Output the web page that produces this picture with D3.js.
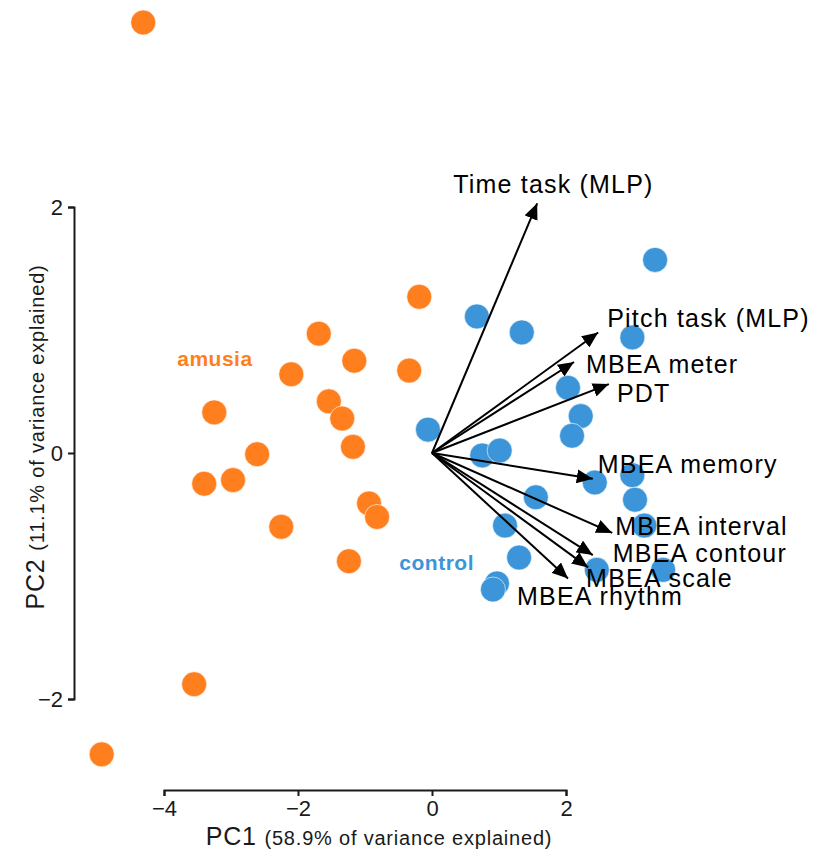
<!DOCTYPE html>
<html>
<head>
<meta charset="utf-8">
<script src="https://cdn.jsdelivr.net/npm/d3@7"></script>
<style>
  body { margin: 0; background: #fff; }
  svg { display: block; font-family: "Liberation Sans", Arial, Helvetica, sans-serif; }
</style>
</head>
<body>
<div id="chart"></div>
<script>
const width = 819;
const height = 852;

// PCA scores (PC1, PC2)
const amusiaPC1 = [-4.31, -0.19, -1.69, -1.16, -2.10, -0.34, -1.54, -1.34, -3.25, -1.18,
  -2.61, -3.40, -2.97, -0.94, -0.82, -2.25, -1.24, -3.55, -4.93];
const amusiaPC2 = [3.50, 1.27, 0.97, 0.75, 0.64, 0.67, 0.42, 0.28, 0.33, 0.05,
  -0.01, -0.25, -0.22, -0.41, -0.52, -0.60, -0.88, -1.88, -2.45];

const controlPC1 = [3.33, 0.67, 1.34, 2.99, 2.03, 2.22, 2.09, -0.06, 0.75, 1.01, 2.43,
  2.99, 3.03, 1.55, 3.17, 1.09, 1.30, 2.46, 3.45, 0.97, 0.91];
const controlPC2 = [1.57, 1.11, 0.98, 0.94, 0.53, 0.30, 0.14, 0.19, -0.02, 0.02, -0.24,
  -0.18, -0.38, -0.36, -0.59, -0.59, -0.85, -0.95, -0.95, -1.06, -1.11];

// loadings (arrow tips)
const variables = ["Time task (MLP)", "Pitch task (MLP)", "MBEA meter", "PDT", "MBEA memory",
  "MBEA interval", "MBEA contour", "MBEA scale", "MBEA rhythm"];
const loadPC1 = [1.57, 2.48, 2.12, 2.64, 2.40, 2.69, 2.40, 2.33, 2.03];
const loadPC2 = [2.03, 0.98, 0.74, 0.56, -0.21, -0.65, -0.83, -0.93, -1.02];

// label placement relative to the arrow tip, in px
const labelDx = [-84, 9, 12, 8, 5, 3, 20, -2, -51];
const labelDy = [-10, -5, 11, 18, -6, 2, 7, 20, 27];

const groups = ["amusia", "control"];
const groupColors = { amusia: "#ff7f1e", control: "#3b95d8" };
const groupLabelX = [-3.24, 0.07];
const groupLabelY = [0.71, -0.95];

const xTicks = [-4, -2, 0, 2];
const yTicks = [-2, 0, 2];

const x = d3.scaleLinear().domain([-4, 2]).range([164, 566]);
const y = d3.scaleLinear().domain([-2, 2]).range([699, 207]);

const svg = d3.select("#chart").append("svg")
  .attr("width", width)
  .attr("height", height);

svg.append("defs").append("marker")
  .attr("id", "arrow")
  .attr("viewBox", "0 0 16 14")
  .attr("refX", 16)
  .attr("refY", 7)
  .attr("markerWidth", 16)
  .attr("markerHeight", 14)
  .attr("markerUnits", "userSpaceOnUse")
  .attr("orient", "auto")
  .append("path")
  .attr("d", "M0,0L16,7L0,14Z")
  .attr("fill", "#000");

const minus = d => String(d).replace("-", "\u2212");

// axes
const xAxis = svg.append("g")
  .attr("transform", `translate(0,790)`)
  .call(d3.axisBottom(x).tickValues(xTicks).tickSize(6).tickPadding(4).tickFormat(minus));

const yAxis = svg.append("g")
  .attr("transform", `translate(74,0)`)
  .call(d3.axisLeft(y).tickValues(yTicks).tickSize(6).tickPadding(5).tickFormat(minus));

[xAxis, yAxis].forEach(g => {
  g.attr("font-size", null).attr("font-family", null);
  g.selectAll("path, line").attr("stroke", "#1a1a1a").attr("stroke-width", 2);
  g.selectAll("text").style("font-size", "22px").attr("fill", "#1a1a1a");
});

// axis titles
const xTitle = svg.append("text")
  .attr("x", 379)
  .attr("y", 845)
  .attr("text-anchor", "middle")
  .attr("fill", "#1a1a1a")
  .attr("letter-spacing", 0.8);
xTitle.append("tspan").attr("font-size", 25).text("PC1 ");
xTitle.append("tspan").attr("font-size", 20).text("(58.9% of variance explained)");

const yTitle = svg.append("text")
  .attr("transform", "translate(44,437) rotate(-90)")
  .attr("text-anchor", "middle")
  .attr("fill", "#1a1a1a")
  .attr("letter-spacing", 0.8);
yTitle.append("tspan").attr("font-size", 25).text("PC2 ");
yTitle.append("tspan").attr("font-size", 20).text("(11.1% of variance explained)");

// points
const points = [];
amusiaPC1.forEach((v, i) => points.push({ g: "amusia", pc1: v, pc2: amusiaPC2[i] }));
controlPC1.forEach((v, i) => points.push({ g: "control", pc1: v, pc2: controlPC2[i] }));

svg.append("g").selectAll("circle")
  .data(points)
  .enter().append("circle")
  .attr("cx", d => x(d.pc1))
  .attr("cy", d => y(d.pc2))
  .attr("r", 12.5)
  .attr("fill", d => groupColors[d.g])
  .attr("stroke", "#fff")
  .attr("stroke-width", 0.6);

// group labels
svg.append("g").selectAll("text")
  .data(groups)
  .enter().append("text")
  .attr("x", (d, i) => x(groupLabelX[i]))
  .attr("y", (d, i) => y(groupLabelY[i]))
  .attr("text-anchor", "middle")
  .attr("font-size", 21)
  .attr("font-weight", "bold")
  .attr("letter-spacing", 0.5)
  .attr("fill", d => groupColors[d])
  .text(d => d);

// loading arrows
const loadings = variables.map((v, i) => ({ name: v, pc1: loadPC1[i], pc2: loadPC2[i], dx: labelDx[i], dy: labelDy[i] }));

svg.append("g").selectAll("line")
  .data(loadings)
  .enter().append("line")
  .attr("x1", x(0))
  .attr("y1", y(0))
  .attr("x2", d => x(d.pc1))
  .attr("y2", d => y(d.pc2))
  .attr("stroke", "#000")
  .attr("stroke-width", 2)
  .attr("marker-end", "url(#arrow)");

svg.append("g").selectAll("text")
  .data(loadings)
  .enter().append("text")
  .attr("x", d => x(d.pc1) + d.dx)
  .attr("y", d => y(d.pc2) + d.dy)
  .attr("font-size", 25)
  .attr("letter-spacing", 1.2)
  .attr("fill", "#000")
  .text(d => d.name);
</script>
</body>
</html>
